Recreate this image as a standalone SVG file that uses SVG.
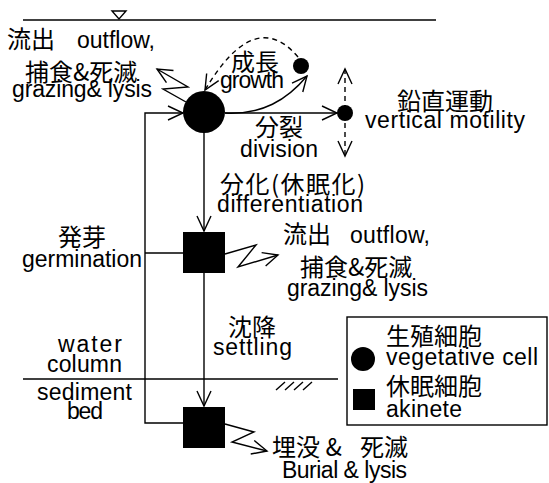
<svg xmlns="http://www.w3.org/2000/svg" width="549" height="483" viewBox="0 0 549 483">
<style>
.ln{fill:none;stroke:#000;stroke-width:1.4}
.ds{fill:none;stroke:#000;stroke-width:1.4;stroke-dasharray:5,4}
.jp{font-family:"Noto Sans CJK JP","Liberation Sans",sans-serif;font-size:24px;fill:#000}
.en{font-family:"Liberation Sans",Arial,sans-serif;font-size:23px;fill:#000}
</style>
<defs>
<marker id="ah" viewBox="-16 -8 18 16" refX="0" refY="0" markerWidth="18" markerHeight="16" markerUnits="userSpaceOnUse" orient="auto-start-reverse">
<path d="M-15,-7 L0,0 L-15,7" fill="none" stroke="#000" stroke-width="1.4"/>
</marker>
</defs>
<rect width="549" height="483" fill="#fff"/>
<g id="surface">
<line class="ln" x1="23" y1="20" x2="436" y2="20"/>
<path class="ln" d="M112,11 L126,11 L119,19 Z"/>
</g>
<g id="sediment">
<line class="ln" x1="23" y1="379" x2="338" y2="379"/>
<path class="ln" d="M285,382 L276,390 M294,382 L285,390 M303,382 L294,390 M312,382 L303,390"/>
</g>
<g id="connectors">
<path class="ln" d="M183,423 L145,423 L145,113 L183,113" marker-end="url(#ah)"/>
<path class="ln" d="M183,253 L145,253"/>
<path class="ln" d="M204,133 L204,231" marker-end="url(#ah)"/>
<path class="ln" d="M204,273 L204,406" marker-end="url(#ah)"/>
<path class="ln" d="M225,113 L337,113" marker-end="url(#ah)"/>
<path class="ln" d="M225,113 C262,115 287,100 307,76" marker-end="url(#ah)"/>
<path class="ds" d="M298,57 Q255,6 205,90" marker-end="url(#ah)"/>
<path class="ds" d="M345,69 L345,156" marker-start="url(#ah)" marker-end="url(#ah)"/>
<path class="ln" d="M186,102 L163,89 L188,87 L157,69" marker-end="url(#ah)"/>
<path class="ln" d="M225,254 L256,245 L238,267 L278,255" marker-end="url(#ah)"/>
<path class="ln" d="M225,424 L254,432 L232,442 L267,451" marker-end="url(#ah)"/>
</g>
<g id="vegetative-cell">
<circle cx="204" cy="112" r="21" fill="#000"/>
</g>
<g id="growth-cell">
<circle cx="301" cy="66" r="8" fill="#000"/>
</g>
<g id="motile-cell">
<circle cx="345" cy="113" r="8" fill="#000"/>
</g>
<g id="akinete-water">
<rect x="183" y="232" width="42" height="41" fill="#000"/>
</g>
<g id="akinete-sediment">
<rect x="183" y="407" width="42" height="41" fill="#000"/>
</g>
<g id="legend">
<rect class="ln" x="347" y="317" width="200" height="108"/>
<circle cx="363" cy="359" r="12" fill="#000"/>
<rect x="353" y="389" width="22" height="21" fill="#000"/>
<text class="jp" x="386" y="345">生殖細胞</text>
<text class="en" x="386" y="365" textLength="152" lengthAdjust="spacing">vegetative cell</text>
<text class="jp" x="386" y="395">休眠細胞</text>
<text class="en" x="386" y="417" textLength="76" lengthAdjust="spacing">akinete</text>
</g>
<g id="labels">
<text class="jp" x="7" y="48">流出</text>
<text class="en" x="77" y="48" textLength="78" lengthAdjust="spacing">outflow,</text>
<text class="jp" x="25" y="81">捕食&amp;死滅</text>
<text class="en" x="12" y="97" textLength="140" lengthAdjust="spacing">grazing&amp; lysis</text>
<text class="jp" x="231" y="71">成長</text>
<text class="en" x="220" y="88" textLength="64" lengthAdjust="spacing">growth</text>
<text class="jp" x="255" y="136">分裂</text>
<text class="en" x="240" y="157" textLength="78" lengthAdjust="spacing">division</text>
<text class="jp" x="397" y="110">鉛直運動</text>
<text class="en" x="365" y="128" textLength="160" lengthAdjust="spacing">vertical motility</text>
<text class="jp" x="220" y="193" textLength="145" lengthAdjust="spacing">分化(休眠化)</text>
<text class="en" x="217" y="212" textLength="146" lengthAdjust="spacing">differentiation</text>
<text class="jp" x="283" y="243">流出</text>
<text class="en" x="350" y="243" textLength="80" lengthAdjust="spacing">outflow,</text>
<text class="jp" x="300" y="276">捕食&amp;死滅</text>
<text class="en" x="287" y="296" textLength="141" lengthAdjust="spacing">grazing&amp; lysis</text>
<text class="jp" x="58" y="246">発芽</text>
<text class="en" x="22" y="267" textLength="120" lengthAdjust="spacing">germination</text>
<text class="jp" x="228" y="336">沈降</text>
<text class="en" x="213" y="355" textLength="79" lengthAdjust="spacing">settling</text>
<text class="en" x="58" y="352" textLength="64" lengthAdjust="spacing">water</text>
<text class="en" x="47" y="372" textLength="75" lengthAdjust="spacing">column</text>
<text class="en" x="37" y="400" textLength="95" lengthAdjust="spacing">sediment</text>
<text class="en" x="67" y="419" textLength="36" lengthAdjust="spacing">bed</text>
<text class="jp" x="272" y="456">埋没 &amp; <tspan x="360">死滅</tspan></text>
<text class="en" x="282" y="478" textLength="125" lengthAdjust="spacing">Burial &amp; lysis</text>
</g>
</svg>
